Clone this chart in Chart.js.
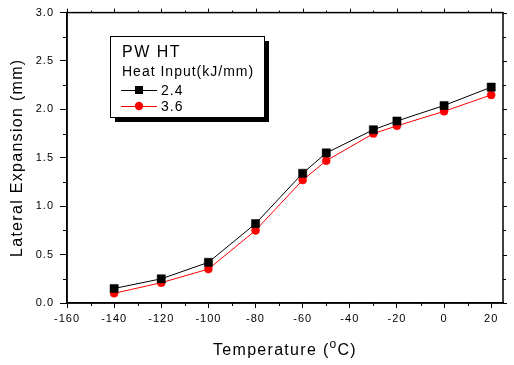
<!DOCTYPE html>
<html>
<head>
<meta charset="utf-8">
<script src="https://cdn.jsdelivr.net/npm/chart.js@4"></script>
<style>
html,body{margin:0;padding:0;background:#fff;}
#wrap{width:514px;height:365px;position:relative;}
</style>
</head>
<body>
<div id="wrap"><canvas id="c" width="514" height="365"></canvas></div>
<script>
const temperatures = [-140, -120, -100, -80, -60, -50, -30, -20, 0, 20];
const expansion24 = [0.15, 0.25, 0.42, 0.82, 1.34, 1.55, 1.79, 1.88, 2.04, 2.23];
const expansion36 = [0.10, 0.21, 0.35, 0.75, 1.27, 1.47, 1.75, 1.83, 1.98, 2.15];
const xTickValues = [-160, -140, -120, -100, -80, -60, -40, -20, 0, 20];
const yTickValues = [0.0, 0.5, 1.0, 1.5, 2.0, 2.5, 3.0];
const seriesLabels = ['2.4', '3.6'];
const legendTitle = 'PW HT';
const legendSubtitle = 'Heat Input(kJ/mm)';
const xTitle = 'Temperature (';
const yTitle = 'Lateral Expansion (mm)';

const FONT = '"Liberation Sans", Arial, sans-serif';

const framePlugin = {
  id: 'frame',
  beforeDraw(chart) { chart.ctx.letterSpacing = '1px'; },
  afterDraw(chart) {
    const ctx = chart.ctx;
    const a = chart.chartArea;
    const xs = chart.scales.x, ys = chart.scales.y;
    ctx.save();
    ctx.letterSpacing = '0px';
    ctx.strokeStyle = '#000';
    ctx.lineWidth = 1.5;
    ctx.strokeRect(a.left, a.top, a.right - a.left, a.bottom - a.top);
    ctx.lineWidth = 1;
    ctx.beginPath();
    for (let v = -160; v <= 25; v += 10) {
      const px = Math.round(xs.getPixelForValue(v)) + 0.5;
      const major = v % 20 === 0;
      if (!major) { ctx.moveTo(px, a.bottom); ctx.lineTo(px, a.bottom + 3); }
      ctx.moveTo(px, a.top); ctx.lineTo(px, a.top - (major ? 4 : 2));
    }
    for (let v = 0; v <= 3.0001; v += 0.25) {
      const py = Math.round(ys.getPixelForValue(v)) + 0.5;
      const major = Math.abs(v * 2 - Math.round(v * 2)) < 1e-6;
      if (!major) { ctx.moveTo(a.left, py); ctx.lineTo(a.left - 4, py); }
      ctx.moveTo(a.right, py); ctx.lineTo(a.right + (major ? 4 : 3), py);
    }
    ctx.stroke();

    ctx.fillStyle = '#000';
    ctx.letterSpacing = '1.3px';
    ctx.font = '16px ' + FONT;
    ctx.textBaseline = 'alphabetic';
    const w1 = ctx.measureText(xTitle).width;
    ctx.font = '12px ' + FONT;
    const w2 = ctx.measureText('o').width;
    ctx.font = '16px ' + FONT;
    const w3 = ctx.measureText('C)').width;
    const total = w1 + w2 + w3;
    let sx = (a.left + a.right) / 2 - total / 2;
    const by = 355;
    ctx.textAlign = 'left';
    ctx.fillText(xTitle, sx, by);
    ctx.font = '12px ' + FONT;
    ctx.fillText('o', sx + w1, by - 7);
    ctx.font = '16px ' + FONT;
    ctx.fillText('C)', sx + w1 + w2, by);
    ctx.save();
    ctx.translate(22, (a.top + a.bottom) / 2);
    ctx.rotate(-Math.PI / 2);
    ctx.textAlign = 'center';
    ctx.fillText(yTitle, 0, 0);
    ctx.restore();

    const L = 110, T = 36, R = 264, B = 117;
    ctx.fillStyle = '#000';
    ctx.fillRect(L + 5, T + 5, R - L, B - T);
    ctx.fillStyle = '#fff';
    ctx.fillRect(L, T, R - L, B - T);
    ctx.strokeStyle = '#000';
    ctx.lineWidth = 1;
    ctx.strokeRect(L + 0.5, T + 0.5, R - L, B - T);
    ctx.fillStyle = '#000';
    ctx.textAlign = 'left';
    ctx.letterSpacing = '1.5px';
    ctx.font = '16px ' + FONT;
    ctx.fillText(legendTitle, 122, 57);
    ctx.letterSpacing = '1px';
    ctx.font = '14px ' + FONT;
    ctx.fillText(legendSubtitle, 122, 76);
    const ds = chart.data.datasets;
    const rows = [90, 106];
    ds.forEach((d, i) => {
      const cy = rows[i];
      ctx.strokeStyle = d.borderColor;
      ctx.lineWidth = 1;
      ctx.beginPath();
      ctx.moveTo(121, cy + 0.5); ctx.lineTo(157, cy + 0.5);
      ctx.stroke();
      ctx.fillStyle = d.pointBackgroundColor;
      if (d.pointStyle === 'rect') {
        ctx.fillRect(135, cy - 4, 8, 8);
      } else {
        ctx.beginPath(); ctx.arc(139, cy, 4.2, 0, Math.PI * 2); ctx.fill();
      }
      ctx.fillStyle = '#000';
      ctx.letterSpacing = '1px';
      ctx.font = '14px ' + FONT;
      ctx.textBaseline = 'middle';
      ctx.fillText(seriesLabels[i], 161, cy + 1);
    });
    ctx.restore();
    ctx.letterSpacing = '0px';
  }
};

new Chart(document.getElementById('c'), {
  type: 'line',
  data: {
    datasets: [
      {
        label: seriesLabels[0],
        data: temperatures.map((t, i) => ({x: t, y: expansion24[i]})),
        borderColor: '#000', backgroundColor: '#000',
        pointBackgroundColor: '#000', pointBorderColor: '#000',
        pointStyle: 'rect', pointRadius: 5.8, pointBorderWidth: 0.5,
        borderWidth: 1, tension: 0
      },
      {
        label: seriesLabels[1],
        data: temperatures.map((t, i) => ({x: t, y: expansion36[i]})),
        borderColor: '#ff0000', backgroundColor: '#ff0000',
        pointBackgroundColor: '#ff0000', pointBorderColor: '#ff0000',
        pointStyle: 'circle', pointRadius: 4, pointBorderWidth: 0.5,
        borderWidth: 1, tension: 0
      }
    ]
  },
  options: {
    responsive: false,
    animation: false,
    devicePixelRatio: 1,
    layout: {padding: {top: 7, right: 11, left: 0, bottom: 0}},
    plugins: {legend: {display: false}, tooltip: {enabled: false}},
    scales: {
      x: {
        type: 'linear', min: -160, max: 25,
        afterBuildTicks: s => { s.ticks = xTickValues.map(v => ({value: v})); },
        afterFit: s => { s.height = 62; },
        grid: {display: true, drawOnChartArea: false, drawTicks: true, tickLength: 5, tickColor: '#000', tickWidth: 1},
        border: {display: true, color: '#000', width: 1.5},
        ticks: {color: '#000', font: {family: FONT, size: 11}, padding: 4, maxRotation: 0, autoSkip: false}
      },
      y: {
        type: 'linear', min: 0, max: 3,
        afterBuildTicks: s => { s.ticks = yTickValues.map(v => ({value: v})); },
        afterFit: s => { s.width = 67; },
        grid: {display: true, drawOnChartArea: false, drawTicks: true, tickLength: 7, tickColor: '#000', tickWidth: 1},
        border: {display: true, color: '#000', width: 1.5},
        ticks: {color: '#000', font: {family: FONT, size: 11}, padding: 6, callback: v => v.toFixed(1)}
      }
    }
  },
  plugins: [framePlugin]
});
</script>
</body>
</html>
